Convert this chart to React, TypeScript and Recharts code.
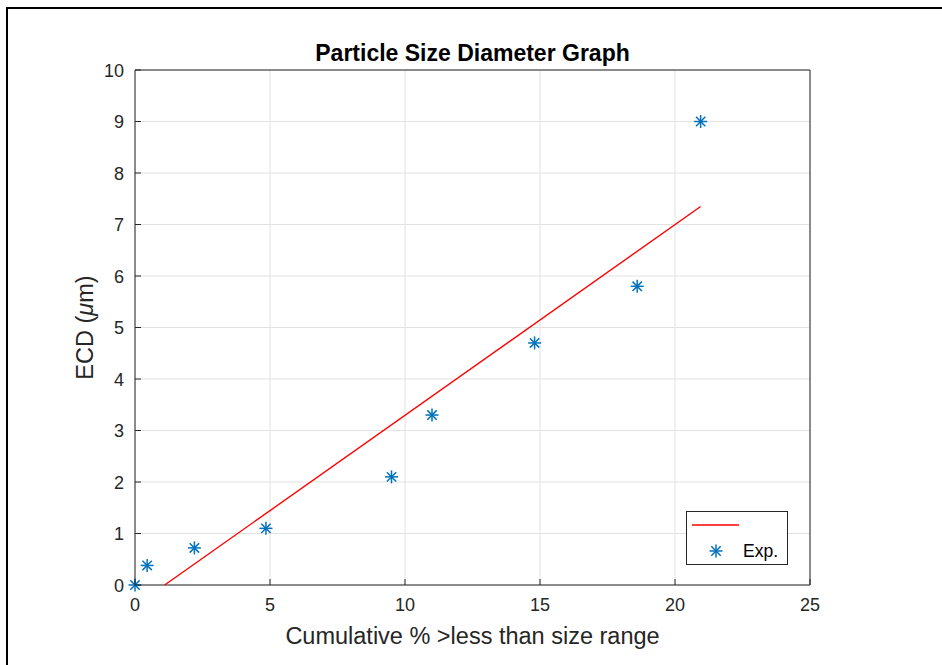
import React from 'react';
import { ScatterChart, Scatter, XAxis, YAxis, CartesianGrid, Legend } from 'recharts';

const expX = [0, 0.45, 2.2, 4.85, 9.5, 11, 14.8, 18.6, 20.95];
const expY = [0, 0.38, 0.72, 1.1, 2.1, 3.3, 4.7, 5.8, 9.0];
const fitX = [1.1, 20.95];
const fitY = [0, 7.35];
const xTicks = [0, 5, 10, 15, 20, 25];
const yTicks = [0, 1, 2, 3, 4, 5, 6, 7, 8, 9, 10];
const seriesNames = ['', 'Exp.'];

const expData = expX.map((x, i) => ({ x, y: expY[i] }));
const fitData = fitX.map((x, i) => ({ x, y: fitY[i] }));

const FONT = '"Liberation Sans", Arial, Helvetica, sans-serif';
const AX = '#262626';
const BLUE = '#0072BD';
const RED = '#FF0000';
const TICK_LEN = 6;
const X_TICK_GAP = 12;
const Y_TICK_GAP = 11;
const TICK_FONT = 18;

const AsteriskGlyph = ({ cx, cy, r = 6.5 }: { cx: number; cy: number; r?: number }) => {
  const d = r * 0.72;
  return (
    <g stroke={BLUE} strokeWidth={1.5} fill="none">
      <line x1={cx - r} y1={cy} x2={cx + r} y2={cy} />
      <line x1={cx} y1={cy - r} x2={cx} y2={cy + r} />
      <line x1={cx - d} y1={cy - d} x2={cx + d} y2={cy + d} />
      <line x1={cx - d} y1={cy + d} x2={cx + d} y2={cy - d} />
    </g>
  );
};

const AsteriskShape = (props: any) => {
  const { cx, cy } = props;
  if (cx == null || cy == null) return <g />;
  return <AsteriskGlyph cx={cx} cy={cy} />;
};

const NoShape = () => <g />;

const BottomTick = (props: any) => {
  const { x, y, payload } = props;
  const axisY = y - X_TICK_GAP;
  return (
    <g>
      <line x1={x} y1={axisY} x2={x} y2={axisY - TICK_LEN} stroke={AX} strokeWidth={1} />
      <text x={x} y={axisY + 26} textAnchor="middle" fontFamily={FONT} fontSize={TICK_FONT} fill={AX}>
        {payload.value}
      </text>
    </g>
  );
};

const LeftTick = (props: any) => {
  const { x, y, payload } = props;
  const axisX = x + Y_TICK_GAP;
  return (
    <g>
      <line x1={axisX} y1={y} x2={axisX + TICK_LEN} y2={y} stroke={AX} strokeWidth={1} />
      <text x={x} y={y + 6.5} textAnchor="end" fontFamily={FONT} fontSize={TICK_FONT} fill={AX}>
        {payload.value}
      </text>
    </g>
  );
};

const LegendBox = (props: any) => {
  const payload = props.payload || [];
  return (
    <svg width={102} height={54} style={{ display: 'block' }}>
      <rect x={0.5} y={0.5} width={101} height={53} fill="#fff" stroke={AX} strokeWidth={1} />
      {payload.map((entry: any, i: number) => {
        const cy = 14 + i * 26;
        if (entry.type === 'line') {
          return (
            <g key={i}>
              <line x1={6} y1={cy} x2={53} y2={cy} stroke={RED} strokeWidth={1.3} />
              <text x={57} y={cy + 6} fontFamily={FONT} fontSize={17.5} fill="#000">{(entry.value || '').trim()}</text>
            </g>
          );
        }
        return (
          <g key={i}>
            <AsteriskGlyph cx={30} cy={cy} />
            <text x={57} y={cy + 6} fontFamily={FONT} fontSize={17.5} fill="#000">{entry.value}</text>
          </g>
        );
      })}
    </svg>
  );
};

const TitleLabel = (props: any) => {
  const vb = props.viewBox || {};
  return (
    <text x={vb.x + vb.width / 2} y={vb.y - 8} textAnchor="middle" fontFamily={FONT} fontSize={23} fontWeight="bold" fill="#000">
      Particle Size Diameter Graph
    </text>
  );
};

const XLabel = (props: any) => {
  const vb = props.viewBox || {};
  return (
    <text x={vb.x + vb.width / 2} y={644} textAnchor="middle" fontFamily={FONT} fontSize={23.5} fill={AX}>
      Cumulative % &gt;less than size range
    </text>
  );
};

const YLabel = (props: any) => {
  const vb = props.viewBox || {};
  const cx = vb.x + 85;
  const cy = vb.y + vb.height / 2;
  return (
    <text x={cx} y={cy} transform={`rotate(-90, ${cx}, ${cy})`} textAnchor="middle" dominantBaseline="central" fontFamily={FONT} fontSize={23.5} fill={AX}>
      ECD (<tspan fontStyle="italic">μ</tspan>m)
    </text>
  );
};

export default function App() {
  return (
    <div style={{ position: 'absolute', left: 0, top: 0, width: 942, height: 665, background: '#fff', overflow: 'hidden' }}>
      <div style={{ position: 'absolute', left: 6, top: 7, width: 942, height: 665, borderTop: '2px solid #000', borderLeft: '2px solid #000' }} />
      <div style={{ position: 'absolute', left: 0, top: 0 }}>
        <ScatterChart width={942} height={665} margin={{ top: 69, right: 131, bottom: 15, left: 0 }}>
          <CartesianGrid stroke="#e2e2e2" strokeWidth={1} />
          <XAxis
            xAxisId={0}
            type="number"
            dataKey="x"
            domain={[0, 25]}
            ticks={xTicks}
            interval={0}
            height={65}
            stroke={AX}
            tickLine={false}
            tickSize={0}
            tickMargin={X_TICK_GAP}
            tick={<BottomTick />}
            label={{ content: <XLabel /> }}
          />
          <XAxis
            xAxisId="top"
            orientation="top"
            type="number"
            dataKey="x"
            domain={[0, 25]}
            ticks={xTicks}
            interval={0}
            height={1}
            stroke={AX}
            tickLine={{ stroke: AX, strokeWidth: 1 }}
            tickSize={-TICK_LEN}
            tick={false}
            label={{ content: <TitleLabel /> }}
          />
          <YAxis
            yAxisId={0}
            type="number"
            dataKey="y"
            domain={[0, 10]}
            ticks={yTicks}
            interval={0}
            width={135}
            stroke={AX}
            tickLine={false}
            tickSize={0}
            tickMargin={Y_TICK_GAP}
            tick={<LeftTick />}
            label={{ content: <YLabel /> }}
          />
          <YAxis
            yAxisId="right"
            orientation="right"
            type="number"
            dataKey="y"
            domain={[0, 10]}
            ticks={yTicks}
            interval={0}
            width={1}
            stroke={AX}
            tickLine={{ stroke: AX, strokeWidth: 1 }}
            tickSize={-TICK_LEN}
            tick={false}
          />
          <Scatter
            name={seriesNames[0] || ' '}
            data={fitData}
            xAxisId="top"
            yAxisId="right"
            line={{ stroke: RED, strokeWidth: 1.4 }}
            shape={NoShape}
            legendType="line"
            fill={RED}
            isAnimationActive={false}
          />
          <Scatter
            name={seriesNames[1]}
            data={expData}
            xAxisId={0}
            yAxisId={0}
            shape={AsteriskShape}
            fill={BLUE}
            legendType="star"
            isAnimationActive={false}
          />
          <Legend
            layout="vertical"
            align="center"
            verticalAlign="middle"
            content={<LegendBox />}
            wrapperStyle={{ position: 'absolute', left: 686, top: 511, width: 102, height: 54 }}
          />
        </ScatterChart>
      </div>
    </div>
  );
}
